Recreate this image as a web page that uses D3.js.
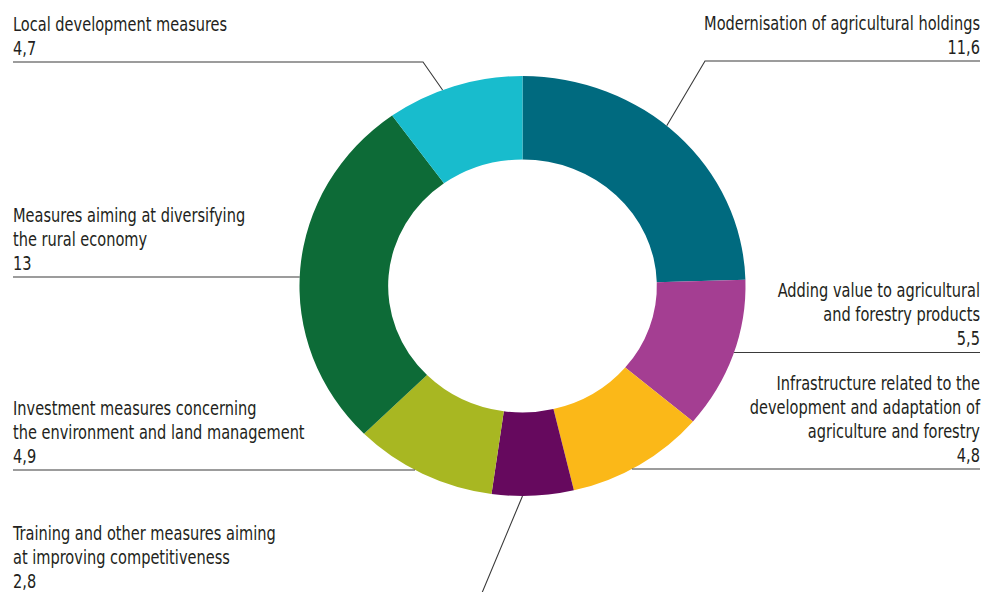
<!DOCTYPE html>
<html>
<head>
<meta charset="utf-8">
<script src="https://cdn.jsdelivr.net/npm/d3@7"></script>
<style>
  html, body { margin: 0; padding: 0; background: #fff; }
  text { font-family: "DejaVu Sans Condensed", "DejaVu Sans", sans-serif; font-size: 20px; fill: #231f20; }
</style>
</head>
<body>
<div id="chart"></div>
<script>
const width = 984;
const height = 592;

// data (clockwise from 12 o'clock)
const measures = [
  ["Modernisation of agricultural holdings"],
  ["Adding value to agricultural", "and forestry products"],
  ["Infrastructure related to the", "development and adaptation of", "agriculture and forestry"],
  ["Training and other measures aiming", "at improving competitiveness"],
  ["Investment measures concerning", "the environment and land management"],
  ["Measures aiming at diversifying", "the rural economy"],
  ["Local development measures"]
];
const shares = [11.6, 5.5, 4.8, 2.8, 4.9, 13, 4.7];
const colors = ["#006a7f", "#a43e92", "#fbb818", "#66095e", "#a8b722", "#0d6b37", "#18bccd"];

// label placement: side, baseline of last text line, leader y, elbow x, anchor angle on the ring (deg) or null for horizontal
const labelLayout = [
  { side: "right", textY: 54,  lineY: 61,    elbowX: 705, angle: 40.3 },
  { side: "right", textY: 345.5, lineY: 352.5, elbowX: null, angle: null },
  { side: "right", textY: 462, lineY: 469,   elbowX: null, angle: null },
  { side: "left",  textY: 588, lineY: 612,   elbowX: 474, angle: 180 },
  { side: "left",  textY: 463, lineY: 470,   elbowX: null, angle: null },
  { side: "left",  textY: 270, lineY: 277,   elbowX: null, angle: null },
  { side: "left",  textY: 55,  lineY: 62,    elbowX: 423, angle: 339 }
];

const cx = 522.5, cy = 286;
const outerR = 210, innerR = 126.5;
const sx = 1.062; // ring is a bit wider than tall
const leftX = 13, rightX = 980, lineH = 24;
const textSqueeze = 0.81; // condensed lettering

const fmt = d3.formatLocale({ decimal: ",", thousands: ".", grouping: [3], currency: ["", "€"] }).format("~g");

const svg = d3.select("#chart").append("svg")
  .attr("width", width)
  .attr("height", height);

const pie = d3.pie().sort(null).value(d => d);
const arcs = pie(shares);
const arc = d3.arc().innerRadius(innerR).outerRadius(outerR);

svg.append("g")
  .attr("transform", `translate(${cx},${cy}) scale(${sx},1)`)
  .selectAll("path")
  .data(arcs)
  .enter()
  .append("path")
  .attr("d", arc)
  .attr("fill", (d, i) => colors[i]);

// point on the outer edge
function edgePoint(deg) {
  const a = deg / 180 * Math.PI;
  return [cx + outerR * sx * Math.sin(a), cy - outerR * Math.cos(a)];
}
// x where a horizontal line at y meets the outer edge
function edgeX(y, side) {
  const dy = (y - cy) / outerR;
  const dx = Math.sqrt(Math.max(0, 1 - dy * dy)) * outerR * sx;
  return side === "left" ? cx - dx : cx + dx;
}

const leaders = svg.append("g");
const labels = svg.append("g");

measures.forEach(function(lines, i) {
  const L = labelLayout[i];
  const tx = L.side === "left" ? leftX : rightX;
  let pts;
  if (L.angle === null) {
    pts = [[tx, L.lineY], [edgeX(L.lineY, L.side), L.lineY]];
  } else {
    pts = [[tx, L.lineY], [L.elbowX, L.lineY], edgePoint(L.angle)];
  }
  leaders.append("path")
    .attr("d", d3.line()(pts))
    .attr("fill", "none")
    .attr("stroke", "#3a3a3a")
    .attr("stroke-width", 1.1);

  const all = lines.concat([fmt(shares[i])]);
  const t = labels.append("text")
    .attr("transform", `translate(${tx},0) scale(${textSqueeze},1)`)
    .attr("text-anchor", L.side === "left" ? "start" : "end");
  all.forEach(function(s, k) {
    t.append("tspan")
      .attr("x", 0)
      .attr("y", L.textY - (all.length - 1 - k) * lineH)
      .text(s);
  });
});
</script>
</body>
</html>
